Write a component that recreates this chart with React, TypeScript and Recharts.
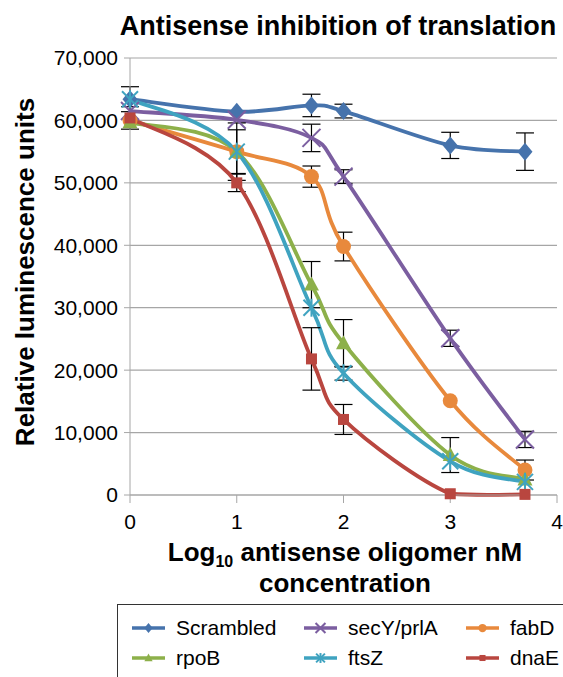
import React from "react";
import {
  CartesianGrid,
  ErrorBar,
  Legend,
  Line,
  LineChart,
  XAxis,
  YAxis,
} from "recharts";

const xValues = [0, 1, 1.7, 2, 3, 3.7];

const scrambled = [63400, 61400, 62400, 61500, 56000, 55000];
const scrambledErr = [2000, null, 1800, 1100, 2100, 3000];
const secY = [61500, 60100, 57200, 51000, 25100, 8900];
const secYErr = [null, null, 2200, 1100, 1300, 1300];
const fabD = [60000, 55000, 51000, 39800, 15100, 4000];
const fabDErr = [null, null, 1700, 2300, null, 1600];
const rpoB = [59700, 55000, 33700, 24300, 6400, 2500];
const rpoBErr = [null, 4600, 3700, 3800, 2800, null];
const ftsZ = [63400, 55000, 30000, 19500, 5400, 2100];
const ftsZErr = [null, 3500, null, 1100, null, null];
const dnaE = [60400, 50000, 21800, 12100, 200, 100];
const dnaEErr = [1800, 1400, 5000, 2400, null, null];

const xTicks = [0, 1, 2, 3, 4];
const yTicks = [0, 10000, 20000, 30000, 40000, 50000, 60000, 70000];

type Shape = "diamond" | "cross" | "circle" | "triangle" | "star" | "square";

const series: {
  key: string;
  name: string;
  color: string;
  shape: Shape;
  values: number[];
  errors: (number | null)[];
}[] = [
  { key: "scrambled", name: "Scrambled", color: "#4673AC", shape: "diamond", values: scrambled, errors: scrambledErr },
  { key: "secY", name: "secY/prlA", color: "#7B5EA0", shape: "cross", values: secY, errors: secYErr },
  { key: "fabD", name: "fabD", color: "#E8893C", shape: "circle", values: fabD, errors: fabDErr },
  { key: "rpoB", name: "rpoB", color: "#8DB04A", shape: "triangle", values: rpoB, errors: rpoBErr },
  { key: "ftsZ", name: "ftsZ", color: "#3FA3C0", shape: "star", values: ftsZ, errors: ftsZErr },
  { key: "dnaE", name: "dnaE", color: "#B9463F", shape: "square", values: dnaE, errors: dnaEErr },
];

const data = xValues.map((x, i) => {
  const row: Record<string, number | undefined> = { x };
  series.forEach((s) => {
    row[s.key] = s.values[i];
    const e = s.errors[i];
    row[`${s.key}Err`] = e == null ? undefined : e;
  });
  return row;
});

const FONT = '"Liberation Sans", Arial, sans-serif';
const GRID = "#A6A6A6";

// Excel-like smoothed line: Catmull-Rom beziers, overshoot kept small
function excelCurve(context: any) {
  let pts: [number, number][] = [];
  const clampY = (y: number, a: number, b: number) => {
    const lo = Math.min(a, b) - 1.5;
    const hi = Math.max(a, b) + 1.5;
    return Math.max(lo, Math.min(hi, y));
  };
  return {
    areaStart() {},
    areaEnd() {},
    lineStart() {
      pts = [];
    },
    point(x: number, y: number) {
      pts.push([+x, +y]);
    },
    lineEnd() {
      if (!pts.length) return;
      context.moveTo(pts[0][0], pts[0][1]);
      for (let i = 0; i < pts.length - 1; i++) {
        const p0 = pts[i - 1] || pts[i];
        const p1 = pts[i];
        const p2 = pts[i + 1];
        const p3 = pts[i + 2] || p2;
        context.bezierCurveTo(
          p1[0] + (p2[0] - p0[0]) / 6,
          clampY(p1[1] + (p2[1] - p0[1]) / 6, p1[1], p2[1]),
          p2[0] - (p3[0] - p1[0]) / 6,
          clampY(p2[1] - (p3[1] - p1[1]) / 6, p1[1], p2[1]),
          p2[0],
          p2[1]
        );
      }
    },
  };
}

function Marker({ shape, color, cx, cy, scale = 1 }: { shape: Shape; color: string; cx: number; cy: number; scale?: number }) {
  const s = scale;
  switch (shape) {
    case "diamond":
      return <polygon points={`${cx},${cy - 9 * s} ${cx + 7.5 * s},${cy} ${cx},${cy + 9 * s} ${cx - 7.5 * s},${cy}`} fill={color} />;
    case "cross":
      return (
        <g stroke={color} strokeWidth={2}>
          <line x1={cx - 9 * s} y1={cy - 9 * s} x2={cx + 9 * s} y2={cy + 9 * s} />
          <line x1={cx - 9 * s} y1={cy + 9 * s} x2={cx + 9 * s} y2={cy - 9 * s} />
        </g>
      );
    case "circle":
      return <circle cx={cx} cy={cy} r={7.5 * s} fill={color} />;
    case "triangle":
      return <polygon points={`${cx},${cy - 8 * s} ${cx + 7.5 * s},${cy + 6 * s} ${cx - 7.5 * s},${cy + 6 * s}`} fill={color} />;
    case "star":
      return (
        <g stroke={color} strokeWidth={2}>
          <line x1={cx - 8 * s} y1={cy - 8 * s} x2={cx + 8 * s} y2={cy + 8 * s} />
          <line x1={cx - 8 * s} y1={cy + 8 * s} x2={cx + 8 * s} y2={cy - 8 * s} />
          <line x1={cx} y1={cy - 9 * s} x2={cx} y2={cy + 9 * s} />
        </g>
      );
    case "square":
    default:
      return <rect x={cx - 5.5 * s} y={cy - 5.5 * s} width={11 * s} height={11 * s} fill={color} />;
  }
}

function makeDot(shape: Shape, color: string) {
  return (props: any) => {
    const { cx, cy, index } = props;
    if (cx == null || cy == null) return <g key={index} />;
    return (
      <g key={`${shape}-${index}`}>
        <Marker shape={shape} color={color} cx={cx} cy={cy} />
      </g>
    );
  };
}

function LegendBox() {
  const cols = [131, 303, 465];
  const rows = [627, 657];
  return (
    <div
      style={{
        position: "absolute",
        left: 117,
        top: 604,
        width: 460,
        height: 90,
        border: "1.5px solid #333",
        boxSizing: "border-box",
        fontFamily: FONT,
      }}
    >
      {series.map((s, i) => {
        const left = cols[i % 3] - 117;
        const top = rows[Math.floor(i / 3)] - 604;
        return (
          <div
            key={s.key}
            style={{ position: "absolute", left, top: top - 13, height: 26, display: "flex", alignItems: "center" }}
          >
            <svg width={34} height={20}>
              <line x1={0} y1={10} x2={33} y2={10} stroke={s.color} strokeWidth={3.5} />
              <Marker shape={s.shape} color={s.color} cx={16.5} cy={10} scale={0.55} />
            </svg>
            <span style={{ marginLeft: 10, fontSize: 21, color: "#000", whiteSpace: "nowrap" }}>{s.name}</span>
          </div>
        );
      })}
    </div>
  );
}

export default function App() {
  return (
    <div style={{ position: "absolute", left: 0, top: 0, width: 563, height: 677, background: "#fff", overflow: "hidden", fontFamily: FONT }}>
      <LineChart
        width={563}
        height={677}
        data={data}
        margin={{ top: 58, right: 6, left: 50, bottom: 142 }}
      >
        <CartesianGrid vertical={false} stroke={GRID} strokeWidth={1.2} />
        <XAxis
          type="number"
          dataKey="x"
          domain={[0, 4]}
          ticks={xTicks}
          height={40}
          tickSize={8}
          tickMargin={11}
          stroke={GRID}
          tick={{ fill: "#000", fontSize: 21, fontFamily: FONT }}
          allowDecimals={false}
        />
        <YAxis
          type="number"
          domain={[0, 70000]}
          ticks={yTicks}
          width={80}
          tickSize={6}
          tickMargin={6}
          stroke={GRID}
          tick={{ fill: "#000", fontSize: 21, fontFamily: FONT }}
          tickFormatter={(v: number) => v.toLocaleString("en-US")}
        />
        {series.map((s) => (
          <Line
            key={s.key}
            dataKey={s.key}
            name={s.name}
            type={excelCurve as any}
            stroke={s.color}
            strokeWidth={3.8}
            dot={makeDot(s.shape, s.color)}
            activeDot={false}
            isAnimationActive={false}
          >
            <ErrorBar dataKey={`${s.key}Err`} width={9} stroke="#000" strokeWidth={1.2} direction="y" />
          </Line>
        ))}
        <Legend verticalAlign="middle" align="center" content={() => null} />
      </LineChart>
      <svg width={563} height={677} style={{ position: "absolute", left: 0, top: 0, pointerEvents: "none" }}>
        <text x={338} y={35} textAnchor="middle" fontSize={27} fontWeight="bold" fontFamily={FONT} fill="#000">
          Antisense inhibition of translation
        </text>
        <text x={34} y={272} textAnchor="middle" fontSize={26} fontWeight="bold" fontFamily={FONT} fill="#000" transform="rotate(-90, 34, 272)">
          Relative luminescence units
        </text>
        <text x={345} y={561} textAnchor="middle" fontSize={26} fontWeight="bold" fontFamily={FONT} fill="#000">
          Log
          <tspan fontSize={16} dy={6}>10</tspan>
          <tspan dy={-6}> antisense oligomer nM</tspan>
        </text>
        <text x={345} y={592} textAnchor="middle" fontSize={26} fontWeight="bold" fontFamily={FONT} fill="#000">
          concentration
        </text>
      </svg>
      <LegendBox />
    </div>
  );
}
